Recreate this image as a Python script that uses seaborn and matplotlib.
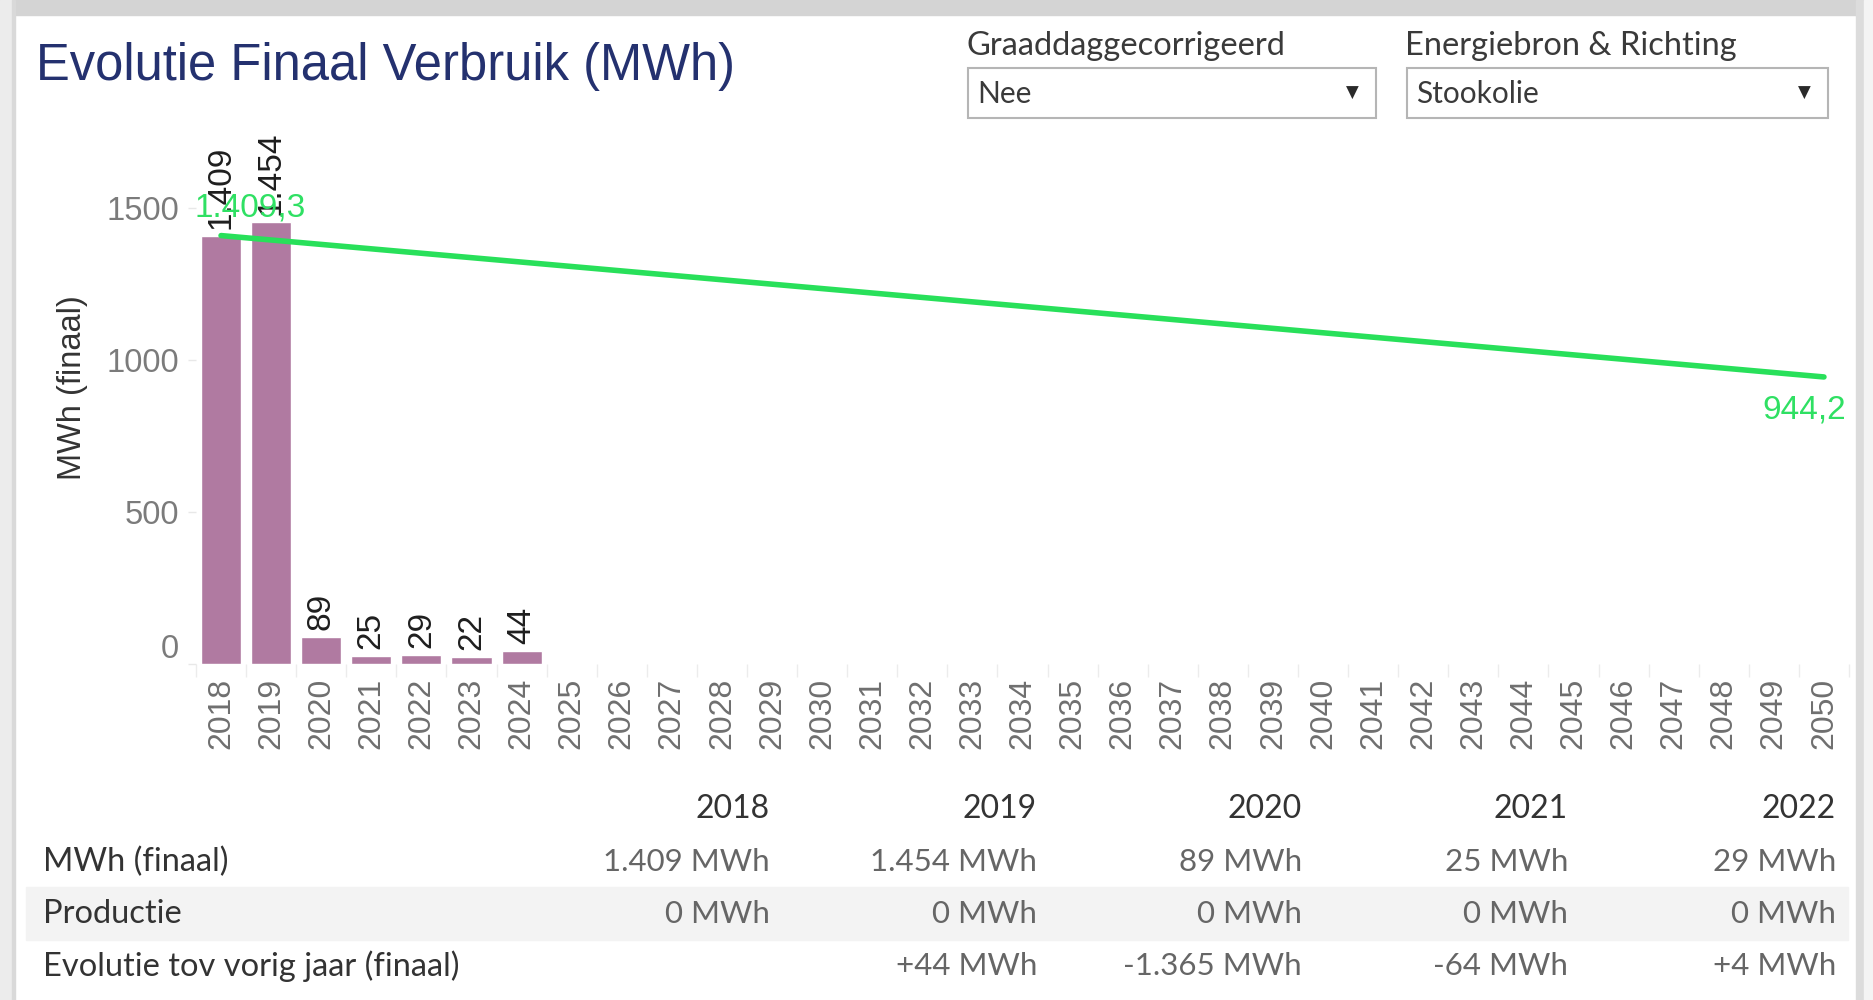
import numpy as np
import pandas as pd
import matplotlib
matplotlib.use("Agg")
import matplotlib.pyplot as plt
import matplotlib.transforms as mtransforms
from matplotlib.patches import Rectangle
import seaborn as sns

# ---------------- data ----------------
years = [str(y) for y in range(2018, 2051)]
bar_years = ["2018", "2019", "2020", "2021", "2022", "2023", "2024"]
bar_values = [1409, 1454, 89, 25, 29, 22, 44]
bar_labels = ["1.409", "1.454", "89", "25", "29", "22", "44"]

trend_years = ["2018", "2050"]
trend_values = [1409.3, 944.2]
trend_labels = ["1.409,3", "944,2"]

y_ticks = [0, 500, 1000, 1500]
y_tick_labels = ["0", "500", "1000", "1500"]

table_years = ["2018", "2019", "2020", "2021", "2022"]
row_names = ["MWh (finaal)", "Productie", "Evolutie tov vorig jaar (finaal)"]
row_finaal = ["1.409 MWh", "1.454 MWh", "89 MWh", "25 MWh", "29 MWh"]
row_productie = ["0 MWh", "0 MWh", "0 MWh", "0 MWh", "0 MWh"]
row_evolutie = ["", "+44 MWh", "-1.365 MWh", "-64 MWh", "+4 MWh"]

filter_labels = ["Graaddaggecorrigeerd", "Energiebron & Richting"]
filter_values = ["Nee", "Stookolie"]

title = "Evolutie Finaal Verbruik (MWh)"

# ---------------- style ----------------
sns.set_theme(style="white")
plt.rcParams["font.family"] = ["Liberation Sans", "DejaVu Sans"]

W, H = 1873, 1000
fig = plt.figure(figsize=(W / 100, H / 100), dpi=100)
fig.patch.set_facecolor("white")

def fx(px):
    return px / W

def fy(py):
    return 1 - py / H

# page frame decorations
fig.patches.append(Rectangle((0, fy(15)), 1, 15 / H, transform=fig.transFigure,
                             color="#d4d4d4", zorder=0))
fig.patches.append(Rectangle((0, 0), fx(12), 1, transform=fig.transFigure,
                             color="#ececec", zorder=0))
fig.patches.append(Rectangle((fx(12), 0), fx(3), 1, transform=fig.transFigure,
                             color="#d9d9d9", zorder=0))
fig.patches.append(Rectangle((fx(1856), 0), fx(8), 1, transform=fig.transFigure,
                             color="#dcdcdc", zorder=0))
fig.patches.append(Rectangle((fx(1864), 0), fx(9), 1, transform=fig.transFigure,
                             color="#f4f4f4", zorder=0))

# ---------------- chart ----------------
ax_left, ax_right = 196, 1849
y0_px, ymax = 664, 1700
px_per_unit = 0.304
ax_top = y0_px - ymax * px_per_unit
ax = fig.add_axes([fx(ax_left), fy(y0_px), (ax_right - ax_left) / W,
                   (y0_px - ax_top) / H])
ax.set_facecolor("none")

df = pd.DataFrame({"year": bar_years, "value": bar_values})
sns.barplot(data=df, x="year", y="value", order=years, color="#b07aa1",
            saturation=1, width=0.8, ax=ax, errorbar=None)

for cont in ax.containers:
    ax.bar_label(cont, labels=bar_labels, rotation=90, padding=5,
                 fontsize=24, color="#1e1e1e")

pos = [years.index(y) for y in trend_years]
sns.lineplot(x=pos, y=trend_values, color="#28e05a", linewidth=4.0, ax=ax,
             solid_capstyle="round")

green_txt = "#2fe063"
ax.annotate(trend_labels[0], (pos[0], trend_values[0]), xytext=(-19, 20),
            textcoords="offset points", ha="left", va="center",
            fontsize=24, color=green_txt, annotation_clip=False)
ax.annotate(trend_labels[1], (pos[1], trend_values[1]), xytext=(16, -24),
            textcoords="offset points", ha="right", va="center",
            fontsize=24, color=green_txt, annotation_clip=False)

ax.set_xlim(-0.5, len(years) - 0.5)
ax.set_ylim(0, ymax)
for s in ax.spines.values():
    s.set_visible(False)

ax.set_yticks(y_ticks)
ax.set_yticklabels(y_tick_labels)
ax.tick_params(axis="y", length=6, width=1, color="#e8e8e8", pad=6,
               labelsize=23.5, labelcolor="#7b7b7b", left=True)
zero_lbl = ax.get_yticklabels()[0]
zero_lbl.set_transform(zero_lbl.get_transform() +
                       mtransforms.ScaledTranslation(0, 0.18, fig.dpi_scale_trans))

ax.set_xticks(range(len(years)))
ax.set_xticklabels(years, rotation=90)
ax.tick_params(axis="x", length=0, pad=10, labelsize=23, labelcolor="#6f6f6f")
ax.set_xticks(np.arange(-0.5, len(years), 1.0), minor=True)
ax.tick_params(axis="x", which="minor", length=9, width=1, color="#ececec",
               bottom=True)

ax.set_xlabel("")
ax.set_ylabel("MWh (finaal)", fontsize=23.5, color="#333333")
ax.yaxis.set_label_coords((68 - ax_left) / (ax_right - ax_left) + 0.012,
                          (y0_px - 388) / (y0_px - ax_top))

# ---------------- title ----------------
fig.text(fx(36), fy(66), title, fontsize=36.5, color="#24316f",
         ha="left", va="center")

# ---------------- filters ----------------
ui_font = ["Lato", "DejaVu Sans"]
boxes = [(968, 1376), (1407, 1828)]
for (x0, x1), lab, val in zip(boxes, filter_labels, filter_values):
    fig.text(fx(x0 - 2), fy(46), lab, fontsize=23.5, color="#3a3a3a",
             ha="left", va="center", family=ui_font)
    fig.patches.append(Rectangle((fx(x0), fy(118)), (x1 - x0) / W, 50 / H,
                                 transform=fig.transFigure, facecolor="white",
                                 edgecolor="#b5b5b5", linewidth=1.5, zorder=1))
    fig.text(fx(x0 + 9), fy(94), val, fontsize=21.5, color="#3a3a3a",
             ha="left", va="center", family=ui_font, zorder=2)
    fig.text(fx(x1 - 24), fy(93), "\u25BC", fontsize=12, color="#2a2a2a",
             ha="center", va="center", family=["DejaVu Sans"], zorder=2)

# ---------------- table ----------------
col_x = [770, 1037, 1302, 1568, 1836]
row_y = [862, 914, 966]
header_y = 809
fig.patches.append(Rectangle((fx(26), fy(940)), (1848 - 26) / W, 53 / H,
                             transform=fig.transFigure, color="#f3f3f3",
                             zorder=0))
for x, yr in zip(col_x, table_years):
    fig.text(fx(x), fy(header_y), yr, fontsize=23, color="#333333",
             ha="right", va="center", family=ui_font)
rows = [row_finaal, row_productie, row_evolutie]
for y, name, vals in zip(row_y, row_names, rows):
    fig.text(fx(43), fy(y), name, fontsize=23.5, color="#333333",
             ha="left", va="center", family=ui_font)
    for x, v in zip(col_x, vals):
        if v:
            fig.text(fx(x), fy(y), v, fontsize=22.5, color="#666666",
                     ha="right", va="center", family=ui_font)

fig.savefig("out.png", dpi=100)
